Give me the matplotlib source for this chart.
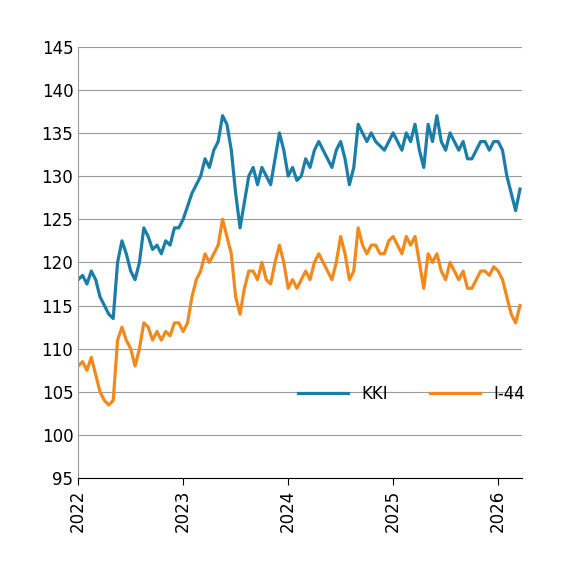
import matplotlib
matplotlib.use("Agg")
import matplotlib.pyplot as plt
import numpy as np

kki = [118,118.5,117.5,119,118,116,115,114,113.5,120,122.5,121,119,118,120,124,123,121.5,122,121,122.5,122,124,124,
       125,126.5,128,129,130,132,131,133,134,137,136,133,128,124,127,130,131,129,131,130,129,132,135,133,
       130,131,129.5,130,132,131,133,134,133,132,131,133,134,132,129,131,136,135,134,135,134,133.5,133,134,
       135,134,133,135,134,136,133,131,136,134,137,134,133,135,134,133,134,132,132,133,134,134,133,134,
       134,133,130,128,126,128.5]
i44 = [108,108.5,107.5,109,107,105,104,103.5,104,111,112.5,111,110,108,110,113,112.5,111,112,111,112,111.5,113,113,
       112,113,116,118,119,121,120,121,122,125,123,121,116,114,117,119,119,118,120,118,117.5,120,122,120,
       117,118,117,118,119,118,120,121,120,119,118,120,123,121,118,119,124,122,121,122,122,121,121,122.5,
       123,122,121,123,122,123,120,117,121,120,121,119,118,120,119,118,119,117,117,118,119,119,118.5,119.5,
       119,118,116,114,113,115]
years = ["2022", "2023", "2024", "2025", "2026"]

t = 2022 + np.arange(len(kki)) / 24.0

fig = plt.figure(figsize=(5.75, 5.68), dpi=100)
ax = fig.add_axes([0.136, 0.158, 0.772, 0.76])
ax.plot(t, kki, color="#1b7ea8", lw=2.3, label="KKI")
ax.plot(t, i44, color="#f2891d", lw=2.3, label="I-44")
ax.set_xlim(2022, t[-1] + 0.02)
ax.set_ylim(95, 145)
ax.set_yticks(range(95, 146, 5))
ax.set_xticks([int(y) for y in years])
ax.set_xticklabels(years, rotation=90)
ax.grid(axis="y", color="#9a9a9a", lw=0.8)
ax.set_axisbelow(True)
for s in ["top", "right"]:
    ax.spines[s].set_visible(False)
ax.spines["left"].set_color("#9a9a9a")
ax.tick_params(labelsize=12, length=5)
ax.tick_params(axis="y", length=0)
ax.legend(loc="lower right", bbox_to_anchor=(1.04, 0.14), ncol=2, frameon=False,
          fontsize=12, handlelength=3, columnspacing=2.5)
fig.savefig("out.png")
